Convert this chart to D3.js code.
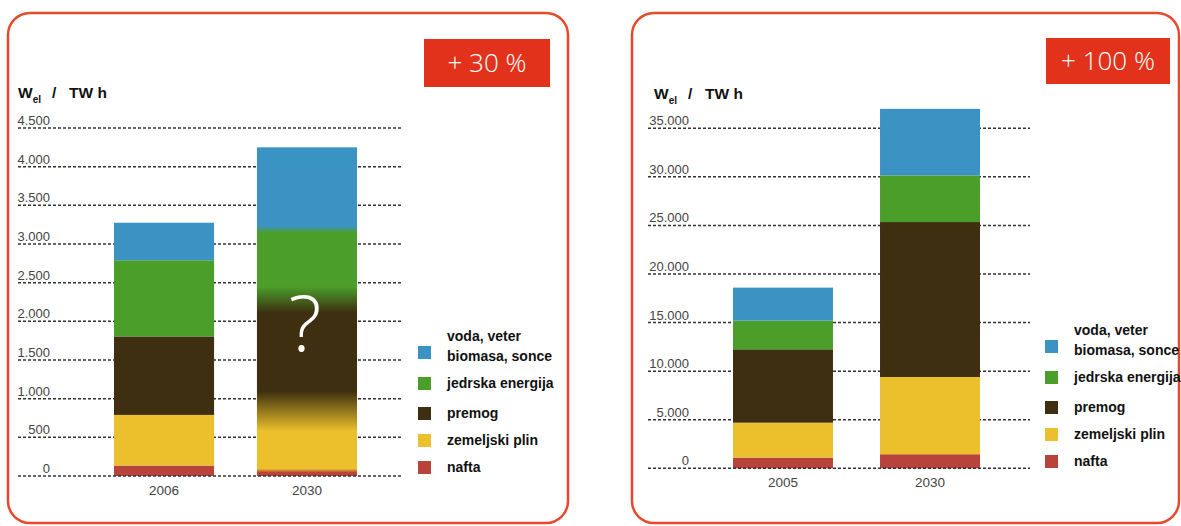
<!DOCTYPE html>
<html>
<head>
<meta charset="utf-8">
<script src="https://cdn.jsdelivr.net/npm/d3@7"></script>
<style>
  html, body { margin: 0; padding: 0; background: #fff; }
  svg { display: block; }
</style>
</head>
<body>
<svg id="chart" width="1181" height="526"></svg>
<script>
// Electricity production by source (TW h), world panels: stacked from bottom to top
const sources = ["nafta", "zemeljski plin", "premog", "jedrska energija", "voda, veter biomasa, sonce"];
const legendLines = [["nafta"], ["zemeljski plin"], ["premog"], ["jedrska energija"], ["voda, veter", "biomasa, sonce"]];

const categoriesLeft = ["2006", "2030"];
const values2006 = [135, 655, 1015, 985, 485];
const values2030Left = [70, 770, 1440, 910, 1060];   // uncertain projection, drawn blended
const ticksLeft = [0, 500, 1000, 1500, 2000, 2500, 3000, 3500, 4000, 4500];
const tickLabelsLeft = ["0", "500", "1.000", "1.500", "2.000", "2.500", "3.000", "3.500", "4.000", "4.500"];
const badgeLeft = "+ 30 %";

const categoriesRight = ["2005", "2030"];
const values2005 = [1100, 3600, 7550, 2950, 3400];
const values2030Right = [1450, 7950, 15950, 4800, 6850];
const ticksRight = [0, 5000, 10000, 15000, 20000, 25000, 30000, 35000];
const tickLabelsRight = ["0", "5.000", "10.000", "15.000", "20.000", "25.000", "30.000", "35.000"];
const badgeRight = "+ 100 %";

const colors = ["#b8433a", "#ebc02c", "#3d2f0f", "#4c9e2b", "#3b93c4"];
const color = d3.scaleOrdinal().domain(sources).range(colors);

const svg = d3.select("#chart");
const defs = svg.append("defs");
const FONT = "'Liberation Sans', Arial, sans-serif";
const RED = "#e8492c";

function panel(cfg) {
  const g = svg.append("g");

  // rounded frame
  g.append("rect")
    .attr("x", cfg.frame[0]).attr("y", cfg.frame[1])
    .attr("width", cfg.frame[2]).attr("height", cfg.frame[3])
    .attr("rx", 22).attr("ry", 22)
    .attr("fill", "none").attr("stroke", RED).attr("stroke-width", 2.5);

  // percentage badge
  g.append("rect")
    .attr("x", cfg.badge[0]).attr("y", cfg.badge[1])
    .attr("width", cfg.badge[2]).attr("height", cfg.badge[3])
    .attr("fill", "#e2321b");
  g.append("text")
    .attr("x", cfg.badge[0] + cfg.badge[2] / 2)
    .attr("y", cfg.badge[1] + cfg.badge[3] / 2 + 9)
    .attr("text-anchor", "middle")
    .attr("fill", "#fff")
    .attr("font-family", "'Open Sans', 'Noto Sans', sans-serif")
    .attr("font-weight", 300)
    .attr("font-size", 26)
    .text(cfg.badgeText);

  // axis title W_el / TW h
  const t = g.append("text")
    .attr("x", cfg.title[0]).attr("y", cfg.title[1])
    .attr("font-family", FONT).attr("font-weight", "bold").attr("font-size", 15.5)
    .attr("fill", "#111");
  t.append("tspan").text("W");
  t.append("tspan").attr("font-size", 10).attr("dy", 5).text("el");
  t.append("tspan").attr("x", cfg.title[0] + 34).attr("dy", -5).text("/");
  t.append("tspan").attr("x", cfg.title[0] + 51).text("TW h");

  const y = d3.scaleLinear().domain(cfg.domain).range([cfg.y0, cfg.y1]);
  const x = d3.scaleBand().domain(cfg.categories)
    .range([cfg.xRange[0], cfg.xRange[1]])
    .paddingInner(cfg.padding).paddingOuter(0);

  // dashed grid lines with labels sitting on them
  const grid = g.append("g");
  grid.selectAll("line").data(cfg.ticks.slice(1)).join("line")
    .attr("x1", cfg.gridX[0]).attr("x2", cfg.gridX[1])
    .attr("y1", d => y(d)).attr("y2", d => y(d))
    .attr("stroke", "#333").attr("stroke-width", 1.5)
    .attr("stroke-dasharray", "3,2");
  g.append("g").selectAll("text").data(cfg.ticks).join("text")
    .attr("x", cfg.labelX).attr("y", d => y(d) - 3)
    .attr("text-anchor", "end")
    .attr("font-family", FONT).attr("font-size", 13)
    .attr("fill", "#444")
    .text((d, i) => cfg.tickLabels[i]);

  // stacked bars
  const series = cfg.categories.map((c, i) => {
    const vals = cfg.values[i];
    let acc = 0;
    return vals.map((v, k) => {
      const seg = { cat: c, key: sources[k], y0: acc, y1: acc + v };
      acc += v;
      return seg;
    });
  });

  series.forEach((segs, i) => {
    const bars = g.append("g");
    if (cfg.blended && cfg.blended[i]) {
      // projection with unknown mix: segments fade into one another
      const id = "blend" + cfg.id + i;
      const total = segs[segs.length - 1].y1;
      const grad = defs.append("linearGradient").attr("id", id)
        .attr("gradientUnits", "userSpaceOnUse")
        .attr("x1", 0).attr("x2", 0).attr("y1", y(0)).attr("y2", y(total));
      const span = y(0) - y(total);
      const off = px => Math.max(0, Math.min(1, (y(0) - px) / span));
      const stops = [];
      segs.forEach((s, k) => {
        const lowBlend = k === 0 ? 0 : cfg.blended[i][k - 1];
        const highBlend = k === segs.length - 1 ? 0 : cfg.blended[i][k];
        stops.push([off(y(s.y0) - lowBlend), color(s.key)]);
        stops.push([off(y(s.y1) + highBlend), color(s.key)]);
      });
      grad.selectAll("stop").data(stops).join("stop")
        .attr("offset", d => d[0]).attr("stop-color", d => d[1]);
      bars.append("rect")
        .attr("x", x(cfg.categories[i])).attr("width", x.bandwidth())
        .attr("y", y(total)).attr("height", y(0) - y(total))
        .attr("fill", `url(#${id})`);
      bars.append("text")
        .attr("x", x(cfg.categories[i]) + x.bandwidth() / 2 - 2)
        .attr("y", y(cfg.markAt))
        .attr("text-anchor", "middle")
        .attr("font-family", "'Open Sans', 'Noto Sans', sans-serif")
        .attr("font-weight", 300).attr("font-size", 78)
        .attr("fill", "#fff")
        .text("?");
    } else {
      bars.selectAll("rect").data(segs).join("rect")
        .attr("x", d => x(d.cat)).attr("width", x.bandwidth())
        .attr("y", d => y(d.y1)).attr("height", d => y(d.y0) - y(d.y1))
        .attr("fill", d => color(d.key));
    }
  });

  // zero line over the bar feet
  g.append("line")
    .attr("x1", cfg.gridX[0]).attr("x2", cfg.gridX[1])
    .attr("y1", y(0)).attr("y2", y(0))
    .attr("stroke", "#333").attr("stroke-width", 1.5)
    .attr("stroke-dasharray", "3,2");

  // category labels
  g.append("g").selectAll("text").data(cfg.categories).join("text")
    .attr("x", d => x(d) + x.bandwidth() / 2)
    .attr("y", y(0) + 19)
    .attr("text-anchor", "middle")
    .attr("font-family", FONT).attr("font-size", 13.5)
    .attr("fill", "#444")
    .text(d => d);

  // legend, top row = top of the stack
  const order = d3.range(sources.length).reverse();
  const rows = [0, 31, 61, 88, 115];
  const lg = g.append("g");
  order.forEach((k, r) => {
    const top = cfg.legend[1] + rows[r];
    lg.append("rect")
      .attr("x", cfg.legend[0]).attr("y", top)
      .attr("width", 13).attr("height", 13)
      .attr("fill", color(sources[k]));
    const lines = legendLines[k];
    lines.forEach((ln, j) => {
      const base = lines.length === 1 ? top + 11 : top - 5 + j * 20;
      lg.append("text")
        .attr("x", cfg.legend[0] + 29).attr("y", base)
        .attr("font-family", FONT).attr("font-weight", "bold").attr("font-size", 14)
        .attr("fill", "#111")
        .text(ln);
    });
  });
}

panel({
  id: "L",
  frame: [8, 13, 560, 510],
  badge: [424, 39, 126, 48],
  badgeText: badgeLeft,
  title: [18, 98],
  domain: [0, 4500], y0: 476, y1: 128,
  ticks: ticksLeft, tickLabels: tickLabelsLeft,
  categories: categoriesLeft,
  values: [values2006, values2030Left],
  blended: [null, [2, 20, 13, 3]],
  markAt: 1620,
  xRange: [114, 357], padding: 0.3,
  gridX: [18, 403], labelX: 50,
  legend: [418, 346]
});

panel({
  id: "R",
  frame: [632, 13, 547, 510],
  badge: [1046, 38, 124, 46],
  badgeText: badgeRight,
  title: [654, 99],
  domain: [0, 35000], y0: 468.3, y1: 128.3,
  ticks: ticksRight, tickLabels: tickLabelsRight,
  categories: categoriesRight,
  values: [values2005, values2030Right],
  xRange: [733, 980], padding: 0.32,
  gridX: [648, 1030], labelX: 689,
  legend: [1045, 340]
});
</script>
</body>
</html>
